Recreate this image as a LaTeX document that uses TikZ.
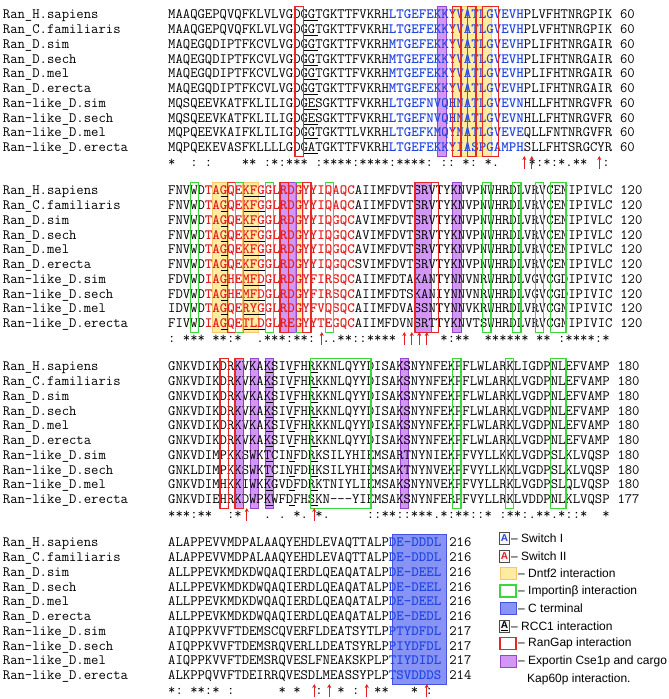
\documentclass[tikz,border=0pt]{standalone}
\usepackage{fontspec}
\setsansfont{Liberation Sans}
\usetikzlibrary{arrows.meta}
\definecolor{seqblue}{RGB}{35,70,225}
\definecolor{seqred}{RGB}{228,30,30}
\definecolor{boxred}{RGB}{228,40,40}
\definecolor{boxgreen}{RGB}{60,215,60}
\definecolor{yfill}{RGB}{255,236,160}
\definecolor{ydraw}{RGB}{245,200,110}
\definecolor{vfill}{RGB}{210,150,245}
\definecolor{vdraw}{RGB}{150,70,200}
\definecolor{bfill}{RGB}{135,148,245}
\definecolor{bdraw}{RGB}{70,80,225}
\newcommand\Bl[1]{\textcolor{seqblue}{\bfseries #1}}
\newcommand\Rd[1]{\textcolor{seqred}{\bfseries #1}}
\newcommand\gp{\hbox{-}}
\tikzset{
 sq/.style={anchor=base west, inner sep=0pt, font=\fontsize{14.2857pt}{14.75pt}\selectfont\ttfamily},
 redbox/.style={draw=boxred, line width=1.3pt},
 greenbox/.style={draw=boxgreen, line width=1.2pt},
 ybox/.style={fill=yfill, draw=ydraw, line width=0.6pt},
 vbox/.style={fill=vfill, draw=vdraw, line width=0.8pt},
 cbox/.style={fill=bfill, draw=bdraw, line width=0.8pt},
 uline/.style={line width=0.7pt, black},
 upar/.style={draw=seqred, line width=0.9pt, -{Stealth[length=4pt,width=4pt]}},
 leg/.style={anchor=west, inner sep=0pt, font=\fontsize{12pt}{14pt}\selectfont\sffamily},
 abox/.style={draw=gray!60!black, fill=gray!6, line width=0.8pt, minimum width=10pt, minimum height=12pt, inner sep=0pt, font=\fontsize{10pt}{10pt}\selectfont\sffamily\bfseries},
 lgbox/.style={minimum width=16pt, minimum height=12pt, inner sep=0pt},
}
\def\xz{168}
\def\cw{7.5}
\newcommand\bx[4]{\path[#1] ({\xz+(#3-1)*\cw-0.4},{176*#2+6.5}) rectangle ({\xz+#4*\cw+0.4},{176*#2+156.5});}
\newcommand\ulc[3]{\foreach \rr in {1,...,10}{\draw[uline] ({\xz+(#2-1)*\cw+0.5},{176*#1+14.75*(\rr-1)+20.8}) -- ({\xz+#3*\cw-0.5},{176*#1+14.75*(\rr-1)+20.8});}}
\newcommand\arr[2]{\draw[upar] ({\xz+(#2-0.5)*\cw},{176*#1+168.5}) -- ({\xz+(#2-0.5)*\cw},{176*#1+156});}
\newcommand\seqrow[5]{%
 \node[sq] (nm#1r#2) at (2.7,{176*#1+14.75*(#2-1)+18.8}) {#3};
 \node[sq] (sq#1r#2) at (\xz,{176*#1+14.75*(#2-1)+18.8}) {#4};
 \node[sq] (no#1r#2) at ([xshift=7.5pt]sq#1r#2.base east) {#5};}
\newcommand\cons[2]{\node[sq] (cs#1) at (\xz,{176*#1+166.3}) {#2};}
\begin{document}
\begin{tikzpicture}[x=1pt,y=-1pt]
\useasboundingbox (0,0) rectangle (669,699);
% ---------- fills ----------
\bx{ybox}{0}{39}{43}
\bx{vbox}{0}{37}{37}
\bx{ybox}{1}{7}{8}
\bx{ybox}{1}{11}{12}
\bx{ybox}{1}{18}{18}
\bx{vbox}{1}{16}{17}
\bx{vbox}{1}{34}{35}
\bx{vbox}{1}{39}{39}
\bx{vbox}{2}{10}{10}
\bx{vbox}{2}{12}{12}
\bx{vbox}{2}{14}{14}
\bx{vbox}{2}{32}{32}
\bx{cbox}{3}{31}{37}
% ---------- block 1 ----------
\seqrow{0}{1}{Ran\_H.sapiens}{MAAQGEPQVQFKLVLVGDGGTGKTTFVKRH\Bl{LTGEFEKKYVATLGVEVH}PLVFHTNRGPIK}{60}
\seqrow{0}{2}{Ran\_C.familiaris}{MAAQGEPQVQFKLVLVGDGGTGKTTFVKRH\Bl{LTGEFEKKYVATLGVEVH}PLVFHTNRGPIK}{60}
\seqrow{0}{3}{Ran\_D.sim}{MAQEGQDIPTFKCVLVGDGGTGKTTFVKRH\Bl{MTGEFEKKYVATLGVEVH}PLIFHTNRGAIR}{60}
\seqrow{0}{4}{Ran\_D.sech}{MAQEGQDIPTFKCVLVGDGGTGKTTFVKRH\Bl{MTGEFEKKYVATLGVEVH}PLIFHTNRGAIR}{60}
\seqrow{0}{5}{Ran\_D.mel}{MAQEGQDIPTFKCVLVGDGGTGKTTFVKRH\Bl{MTGEFEKKYVATLGVEVH}PLIFHTNRGAIR}{60}
\seqrow{0}{6}{Ran\_D.erecta}{MAQEGQDIPTFKCVLVGDGGTGKTTFVKRH\Bl{MTGEFEKKYVATLGVEVH}PLIFHTNRGAIR}{60}
\seqrow{0}{7}{Ran-like\_D.sim}{MQSQEEVKATFKLILIGDGESGKTTFVKRH\Bl{LTGEFNVQHNATLGVEVN}HLLFHTNRGVFR}{60}
\seqrow{0}{8}{Ran-like\_D.sech}{MQSQEEVKATFKLILIGDGESGKTTFVKRH\Bl{LTGEFNVQHNATLGVEVN}HLLFHTNRGVFR}{60}
\seqrow{0}{9}{Ran-like\_D.mel}{MQPQEEVKAIFKLILIGDGGTGKTTLVKRH\Bl{LTGEFKMQYNATLGVEVE}QLLFNTNRGVFR}{60}
\seqrow{0}{10}{Ran-like\_D.erecta}{MQPQEKEVASFKLLLLGDGATGKTTFVKRH\Bl{LTGEFEKKYIASPGAMPH}SLLFHTSRGCYR}{60}
\cons{0}{*~~:~:~~~~**~:*:***~:****:****:****:~::~*:~*.~~~~*:*:*.**~~:}
% ---------- block 2 ----------
\seqrow{1}{1}{Ran\_H.sapiens}{FNVWD\Rd{TAGQEKFGGLRDGYYIQAQC}AIIMFDVTSRVTYKNVPNWHRDLVRVCENIPIVLC}{120}
\seqrow{1}{2}{Ran\_C.familiaris}{FNVWD\Rd{TAGQEKFGGLRDGYYIQAQC}AIIMFDVTSRVTYKNVPNWHRDLVRVCENIPIVLC}{120}
\seqrow{1}{3}{Ran\_D.sim}{FNVWD\Rd{TAGQEKFGGLRDGYYIQGQC}AVIMFDVTSRVTYKNVPNWHRDLVRVCENIPIVLC}{120}
\seqrow{1}{4}{Ran\_D.sech}{FNVWD\Rd{TAGQEKFGGLRDGYYIQGQC}AVIMFDVTSRVTYKNVPNWHRDLVRVCENIPIVLC}{120}
\seqrow{1}{5}{Ran\_D.mel}{FNVWD\Rd{TAGQEKFGGLRDGYYIQGQC}AVIMFDVTSRVTYKNVPNWHRDLVRVCENIPIVLC}{120}
\seqrow{1}{6}{Ran\_D.erecta}{FNVWD\Rd{TAGQEKFGGLRDGYYIQGQC}SVIMFDVTSRVTYKNVPNWHRDLVRVCENIPIVLC}{120}
\seqrow{1}{7}{Ran-like\_D.sim}{FDVWD\Rd{IAGHEMFDGLRDGYFIRSQC}AIIMFDTAKANTYNNVNRWHRDLVGVCGDIPIVIC}{120}
\seqrow{1}{8}{Ran-like\_D.sech}{FDVWD\Rd{TAGHEMFDGLRDGYFIRSQC}AIIMFDTSKANIYNNVNRWHRDLVGVCGDIPIVIC}{120}
\seqrow{1}{9}{Ran-like\_D.mel}{IDVWD\Rd{TAGQERYGGLRDGYFVQSQC}AIIMFDVASSNTYNNVKRWHRDLVRVCGNIPIVIC}{120}
\seqrow{1}{10}{Ran-like\_D.erecta}{FIVWD\Rd{IAGQETLDGLREGYYTEGQC}AIIMFDVNSRTTYKNVTSWHRDLVRVCGNIPIVIC}{120}
\cons{1}{:~***~**:*~~.***:**:~..**::****~~~~~~*:**~~******~**~:****:*}
% ---------- block 3 ----------
\seqrow{2}{1}{Ran\_H.sapiens}{GNKVDIKDRKVKAKSIVFHRKKNLQYYDISAKSNYNFEKPFLWLARKLIGDPNLEFVAMP}{180}
\seqrow{2}{2}{Ran\_C.familiaris}{GNKVDIKDRKVKAKSIVFHRKKNLQYYDISAKSNYNFEKPFLWLARKLVGDPNLEFVAMP}{180}
\seqrow{2}{3}{Ran\_D.sim}{GNKVDIKDRKVKAKSIVFHRKKNLQYYDISAKSNYNFEKPFLWLARKLVGDPNLEFVAMP}{180}
\seqrow{2}{4}{Ran\_D.sech}{GNKVDIKDRKVKAKSIVFHRKKNLQYYDISAKSNYNFEKPFLWLARKLVGDPNLEFVAMP}{180}
\seqrow{2}{5}{Ran\_D.mel}{GNKVDIKDRKVKAKSIVFHRKKNLQYYDISAKSNYNFEKPFLWLARKLVGDPNLEFVAMP}{180}
\seqrow{2}{6}{Ran\_D.erecta}{GNKVDIKDRKVKAKSIVFHRKKNLQYYDISAKSNYNFEKPFLWLARKLVGDPNLEFVAMP}{180}
\seqrow{2}{7}{Ran-like\_D.sim}{GNKVDIMPKKSWKTCINFDRKSILYHIEMSARTNYNIEKPFVYLLKKLVGDPSLKLVQSP}{180}
\seqrow{2}{8}{Ran-like\_D.sech}{GNKLDIMPKKSWKTCINFDHKSILYHIEMSAKTNYNVEKPFVYLLKKLVGDPSLKLVQSP}{180}
\seqrow{2}{9}{Ran-like\_D.mel}{GNKVDIMHKKIWKKGVDFDRKTNIYLIEMSAKSNYNVEKPFVYLLRKLVGDPSLQLVQSP}{180}
\seqrow{2}{10}{Ran-like\_D.erecta}{GNKVDIEHRKDWPKWFDFHSKN\gp\gp\gp YIEMSAKSNYNFERPFVYLLRKLVDDPNLKLVQSP}{177}
\cons{2}{***:**~~:*~~~.~.~*.~*.~~~~~::**::***.*:**::*~:**:.**.*::*~~*}
% ---------- block 4 ----------
\seqrow{3}{1}{Ran\_H.sapiens}{ALAPPEVVMDPALAAQYEHDLEVAQTTALP\Bl{DE\gp DDDL}}{216}
\seqrow{3}{2}{Ran\_C.familiaris}{ALAPPEVVMDPALAAQYEHDLEVAQTTALP\Bl{DE\gp DDDL}}{216}
\seqrow{3}{3}{Ran\_D.sim}{ALLPPEVKMDKDWQAQIERDLQEAQATALP\Bl{DE\gp DEEL}}{216}
\seqrow{3}{4}{Ran\_D.sech}{ALLPPEVKMDKDWQAQIERDLQEAQATALP\Bl{DE\gp DEEL}}{216}
\seqrow{3}{5}{Ran\_D.mel}{ALLPPEVKMDKDWQAQIERDLQEAQATALP\Bl{DE\gp DEEL}}{216}
\seqrow{3}{6}{Ran\_D.erecta}{ALLPPEVKMDKDWQAQIERDLQEAQATALP\Bl{DE\gp DEDL}}{216}
\seqrow{3}{7}{Ran-like\_D.sim}{AIQPPKVVFTDEMSCQVERFLDEATSYTLP\Bl{PTYDFDL}}{217}
\seqrow{3}{8}{Ran-like\_D.sech}{AIQPPKVVFTDEMSRQVERLLDEATSYRLP\Bl{PIYDFDL}}{217}
\seqrow{3}{9}{Ran-like\_D.mel}{AIQPPKVVFTDEMSRQVESLFNEAKSKPLP\Bl{TIYDIDL}}{217}
\seqrow{3}{10}{Ran-like\_D.erecta}{ALKPPQVVFTDEIRRQVESDLMEASSYPLP\Bl{TSVDDDS}}{214}
\cons{3}{*:~**:*~:~~~~~~*~*~~:~~*~:~~**~~~*~:~}
% ---------- outlines ----------
\bx{redbox}{0}{18}{18}
\bx{redbox}{0}{39}{39}
\bx{redbox}{0}{41}{41}
\bx{redbox}{0}{43}{44}
\bx{greenbox}{1}{4}{4}
\bx{redbox}{1}{9}{10}
\bx{greenbox}{1}{10}{10}
\bx{greenbox}{1}{14}{14}
\bx{redbox}{1}{16}{16}
\bx{greenbox}{1}{18}{19}
\bx{redbox}{1}{19}{19}
\bx{greenbox}{1}{22}{22}
\bx{redbox}{1}{34}{36}
\bx{greenbox}{1}{43}{43}
\bx{greenbox}{1}{47}{47}
\bx{greenbox}{1}{50}{50}
\bx{greenbox}{1}{52}{53}
\bx{redbox}{2}{8}{8}
\bx{redbox}{2}{10}{10}
\bx{greenbox}{2}{20}{27}
\bx{greenbox}{2}{39}{39}
\bx{greenbox}{2}{46}{46}
\bx{greenbox}{2}{52}{53}
% ---------- underlines ----------
\ulc{0}{19}{20}
\ulc{1}{8}{8}
\ulc{1}{11}{13}
\ulc{2}{14}{14}
\ulc{2}{17}{17}
\ulc{2}{20}{20}
% ---------- arrows ----------
\arr{0}{48}\arr{0}{49}\arr{0}{58}
\arr{1}{21}\arr{1}{32}\arr{1}{33}\arr{1}{34}\arr{1}{35}
\arr{2}{11}\arr{2}{20}
\arr{3}{20}\arr{3}{22}\arr{3}{27}\arr{3}{35}
% ---------- legend ----------
\node[abox] (lgA1) at (504.5,538.5) {\textcolor{seqblue}{A}};
\node[leg] (lgT1) at (511,538.5) {– Switch I};
\node[abox] (lgA2) at (504.5,556) {\textcolor{seqred}{A}};
\node[leg] (lgT2) at (511,556) {– Switch II};
\node[lgbox, ybox] (lgB3) at (508,573.5) {};
\node[leg] (lgT3) at (518,573.5) {– Dntf2 interaction};
\node[lgbox, greenbox, fill=white] (lgB4) at (508,591) {};
\node[leg] (lgT4) at (518,591) {– Importinβ interaction};
\node[lgbox, cbox] (lgB5) at (508,608.5) {};
\node[leg] (lgT5) at (518,608.5) {– C terminal};
\node[abox] (lgA6) at (504.5,626) {\underline{A}};
\node[leg] (lgT6) at (511,626) {– RCC1 interaction};
\node[lgbox, redbox, fill=white] (lgB7) at (508,643.5) {};
\node[leg] (lgT7) at (518,643.5) {– RanGap interaction};
\node[lgbox, vbox] (lgB8) at (508,661) {};
\node[leg] (lgT8) at (518,661) {– Exportin Cse1p and cargo};
\node[leg] (lgT9) at (527,679) {Kap60p interaction.};
\end{tikzpicture}
\end{document}
